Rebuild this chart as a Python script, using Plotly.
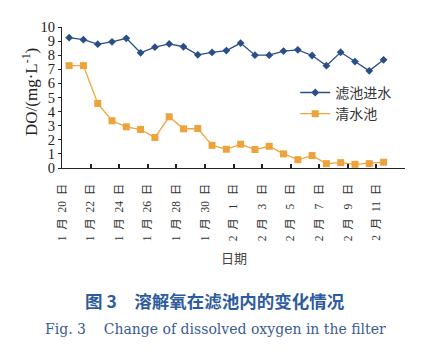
import plotly.graph_objects as go

dates = ["1月20日", "1月21日", "1月22日", "1月23日", "1月24日", "1月25日", "1月26日", "1月27日",
         "1月28日", "1月29日", "1月30日", "1月31日", "2月1日", "2月2日", "2月3日", "2月4日",
         "2月5日", "2月6日", "2月7日", "2月8日", "2月9日", "2月10日", "2月11日"]
filter_inlet = [9.24, 9.10, 8.78, 8.95, 9.20, 8.17, 8.57, 8.80, 8.60, 8.03, 8.20, 8.33,
                8.86, 8.00, 8.00, 8.29, 8.38, 7.98, 7.26, 8.21, 7.55, 6.89, 7.67]
clear_well = [7.26, 7.26, 4.58, 3.35, 2.92, 2.73, 2.16, 3.63, 2.78, 2.80, 1.61, 1.33,
              1.69, 1.31, 1.54, 1.00, 0.59, 0.88, 0.31, 0.38, 0.26, 0.31, 0.41]
tick_labels = ["1  月  20  日", "1  月  22  日", "1  月  24  日", "1  月  26  日", "1  月  28  日",
               "1  月  30  日", "2  月   1   日", "2  月   3   日", "2  月   5   日", "2  月   7   日",
               "2  月   9   日", "2  月  11  日"]
y_ticks = list(range(0, 11))

serif = "Liberation Serif, Noto Sans CJK SC"
x = list(range(len(dates)))

fig = go.Figure()
fig.add_trace(go.Scatter(x=x, y=filter_inlet, name="滤池进水", mode="lines+markers",
                         line=dict(color="#2a4f86", width=1.3),
                         marker=dict(symbol="diamond", size=6, color="#2a4f86")))
fig.add_trace(go.Scatter(x=x, y=clear_well, name="清水池", mode="lines+markers",
                         line=dict(color="#f0a53a", width=1.3),
                         marker=dict(symbol="square", size=7, color="#eda33b")))

fig.update_layout(
    width=430, height=351,
    margin=dict(l=62, r=25, t=27, b=183),
    paper_bgcolor="white", plot_bgcolor="white",
    showlegend=True,
    legend=dict(x=0.68, y=0.646, xanchor="left", yanchor="top",
                font=dict(family="Noto Sans CJK SC", size=14, color="#333333"),
                itemwidth=30, tracegroupgap=0, bgcolor="rgba(0,0,0,0)"),
    font=dict(family=serif, color="#222222"),
)
fig.update_xaxes(
    range=[-0.5, 23.5], showgrid=False, zeroline=False,
    showline=True, linecolor="#222222", linewidth=1.2,
    tickmode="array", tickvals=[2 * k - 0.5 for k in range(len(tick_labels))],
    ticktext=tick_labels, tickangle=-90, ticks="", ticklabelstandoff=10,
    tickfont=dict(family=serif, size=11.5, color="#333333"),
    minor=dict(tickmode="array", tickvals=[2 * k + 1.5 for k in range(11)],
               ticks="inside", ticklen=4, tickcolor="#222222", tickwidth=1.5),
)
fig.update_yaxes(
    range=[0, 10], showgrid=False, zeroline=False,
    showline=True, linecolor="#222222", linewidth=1.2,
    tickmode="array", tickvals=y_ticks, ticks="outside", ticklen=3, tickcolor="#222222",
    tickfont=dict(family=serif, size=14.5, color="#222222"),
)

fig.add_annotation(text="DO/(mg·L<sup>-1</sup>)", xref="paper", yref="paper",
                   x=(30 - 62) / 343, y=(168 - 92) / 141, textangle=-90, showarrow=False,
                   font=dict(family=serif, size=17, color="#222222"),
                   xanchor="center", yanchor="middle")
fig.add_annotation(text="日期", xref="paper", yref="paper", x=0.5, y=-0.638,
                   showarrow=False, font=dict(family="Noto Sans CJK SC", size=13, color="#444444"),
                   xanchor="center", yanchor="middle")
fig.add_annotation(text="<b>图 3　溶解氧在滤池内的变化情况</b>", xref="paper", yref="paper",
                   x=(215 - 62) / 343, y=-0.941, showarrow=False,
                   font=dict(family="Noto Sans CJK SC", size=17.5, color="#2e5c9e"),
                   xanchor="center", yanchor="middle")
fig.add_annotation(text="Fig. 3    Change of dissolved oxygen in the filter", xref="paper", yref="paper",
                   x=(215 - 62) / 343, y=-1.142, showarrow=False,
                   font=dict(family="DejaVu Serif", size=14, color="#3a5c92"),
                   xanchor="center", yanchor="middle")

fig.write_html("out.html")
